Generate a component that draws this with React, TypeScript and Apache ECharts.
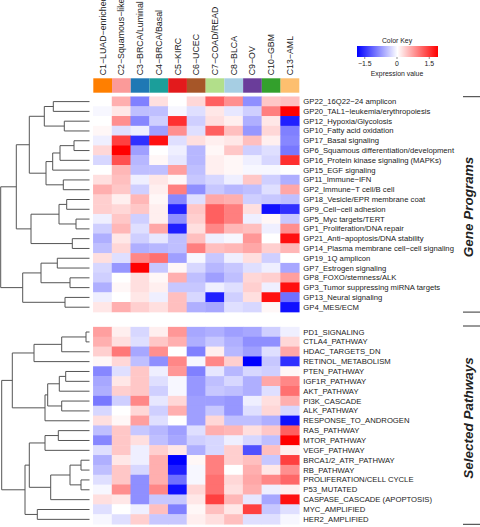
import React, { useEffect, useRef } from "react";
import * as echarts from "echarts";

const clusters = [
  "C1−LUAD−enriched", "C2−Squamous−like", "C3−BRCA/Luminal", "C4−BRCA/Basal", "C5−KIRC",
  "C6−UCEC", "C7−COAD/READ", "C8−BLCA", "C9−OV", "C10−GBM", "C13−AML",
];
const clusterColors = [
  "#FF7F00", "#FB9A99", "#1F78B4", "#1B9E9A", "#E31A1C", "#A65628",
  "#B2DF8A", "#A6CEE3", "#6A3D9A", "#33A02C", "#FDBF6F",
];

const genePrograms = [
  "GP22_16Q22−24 amplicon", "GP20_TAL1−leukemia/erythropoiesis", "GP12_Hypoxia/Glycolosis",
  "GP10_Fatty acid oxidation", "GP17_Basal signaling", "GP6_Squamous differentiation/development",
  "GP16_Protein kinase signaling (MAPKs)", "GP15_EGF signaling", "GP11_Immune−IFN",
  "GP2_Immune−T cell/B cell", "GP18_Vesicle/EPR membrane coat", "GP9_Cell−cell adhesion",
  "GP5_Myc targets/TERT", "GP1_Proliferation/DNA repair", "GP21_Anti−apoptosis/DNA stability",
  "GP14_Plasma membrane cell−cell signaling", "GP19_1Q amplicon", "GP7_Estrogen signaling",
  "GP8_FOXO/stemness/ALK", "GP3_Tumor suppressing miRNA targets", "GP13_Neural signaling",
  "GP4_MES/ECM",
];

const pathways = [
  "PD1_SIGNALING", "CTLA4_PATHWAY", "HDAC_TARGETS_DN", "RETINOL_METABOLISM", "PTEN_PATHWAY",
  "IGF1R_PATHWAY", "AKT_PATHWAY", "PI3K_CASCADE", "ALK_PATHWAY", "RESPONSE_TO_ANDROGEN",
  "RAS_PATHWAY", "MTOR_PATHWAY", "VEGF_PATHWAY", "BRCA1/2_ATR_PATHWAY", "RB_PATHWAY",
  "PROLIFERATION/CELL CYCLE", "P53_MUTATED", "CASPASE_CASCADE (APOPTOSIS)", "MYC_AMPLIFIED",
  "HER2_AMPLIFIED",
];

const geneValues = [
  [0, 0.5, -0.8, 0.2, 0, 0.25, 1.0, 0.7, -0.7, 0.35, 0.4],
  [-0.05, 0.15, -0.4, -0.4, -0.05, -0.2, 0.15, -0.15, -0.3, 0.8, 1.6],
  [0, 0.7, -0.75, -0.3, 1.3, -0.3, 0.2, 0.1, -0.5, 0.15, -1.4],
  [0.05, -0.2, -0.1, -0.6, 0.7, -0.2, 1.0, 0.4, -0.65, 0.25, -0.8],
  [-0.1, 1.2, -1.3, 1.5, -0.2, 0.2, 0.1, 0.15, 0.4, 0.1, -0.75],
  [0.25, 1.6, -0.6, 0, -0.1, -0.45, 0.05, 0.35, -0.3, -0.2, -0.85],
  [-0.25, 1.1, -0.45, 0.05, -0.15, -0.45, 0.1, 0.05, -0.1, -0.25, 1.3],
  [0, 0.45, -0.4, -0.4, 0.6, -0.4, 0.1, 0.05, -0.05, -0.05, 0],
  [0.2, 0.4, -0.1, 0.15, 0.05, -0.35, -0.25, -0.1, 0.35, -0.3, -0.5],
  [0.5, 0.35, -0.3, 0.1, 0.8, -0.7, -0.35, -0.45, -0.4, -0.2, 0.55],
  [0.3, 0.1, 0.45, 0.05, -0.75, -0.2, 0.55, 0.5, -0.3, -0.35, -0.4],
  [0.3, 0.25, 0.35, 0.1, -1.4, 0.35, 1.0, 0.8, 0.2, -1.5, -1.3],
  [-0.1, 0.35, -0.3, 0.1, -0.7, 0.3, 1.0, 0.8, -0.1, 0.05, -0.35],
  [-0.3, 0.45, -0.2, 0.55, -1.4, 0.2, 0.75, 0.45, 0.4, -0.1, 0.7],
  [-0.5, 0.15, -0.3, -0.15, -0.4, 0.4, -0.1, -0.05, 0.65, 0, 1.5],
  [-0.4, 0.25, -0.5, -0.45, -0.4, 0.8, 0.4, 0.45, 0.55, 0.3, 0.45],
  [0.2, -0.2, 0.75, 0.9, -0.6, -0.05, -0.35, -0.1, 0.2, -0.3, 0],
  [-0.25, -0.65, 1.6, -0.35, 0.05, -0.25, -0.45, -0.35, -0.2, -0.1, -0.55],
  [-0.3, 0, 0.2, 0.05, 0.5, -0.4, -0.6, -0.4, 0.25, 0.3, 0.6],
  [-0.5, 0.05, 0.2, 0.1, -0.35, -0.35, -0.1, -0.2, 0.3, -0.1, 1.5],
  [-0.1, 0, 0.15, -0.1, 0.4, -0.25, -1.4, -0.3, 0.2, 1.5, -0.9],
  [0.15, 0.5, 0.3, 0.2, 0.4, -0.5, -0.55, -0.2, -0.25, 0.05, -1.5],
];

const pathwayValues = [
  [0.6, 0.1, -0.25, 0.1, 0.65, -0.55, -0.5, -0.6, -0.55, -0.3, -0.1],
  [0.5, 0.2, -0.2, 0.35, 0.5, -0.5, -0.35, -0.5, -0.7, -0.7, 0.25],
  [0.3, 0.85, -0.55, 0.7, 0, -0.8, 0.1, -0.45, -0.6, -0.2, 0.55],
  [0.05, 0.25, -0.4, -0.7, 0.75, -0.05, 0.75, 0.3, -1.6, -0.35, -1.3],
  [-0.75, -0.2, 0.35, -0.1, 0.65, -0.8, -0.15, -0.45, -0.25, -0.3, 0.05],
  [-0.55, 0.15, 0.35, -0.2, -0.05, -0.65, -0.4, -0.25, -0.5, 0.55, 0.75],
  [-0.5, 0.3, 0.35, -0.3, -0.05, -0.65, -0.35, -0.4, -0.5, -0.2, 0.9],
  [-0.85, -0.3, 0.75, -0.15, 0.25, -0.6, -0.6, -0.65, -0.1, 0.2, 0.5],
  [-0.25, 0, 0.25, -0.3, 0.5, -0.6, -0.35, -0.65, -0.2, 0.25, -0.25],
  [0.2, 0.05, 0.6, -0.2, 0, -0.6, 0.25, -0.4, -0.4, -0.5, -1.5],
  [-0.4, 0.35, -0.35, -0.45, -0.6, -0.2, 0.5, 0.45, 0.2, 0.35, 1.0],
  [-0.75, 0.35, 0.2, -0.4, -0.55, -0.3, -0.25, -0.1, -0.25, -0.4, 1.6],
  [-0.2, 0.35, -0.1, 0.3, 0.15, -0.5, -0.25, 0.3, -1.1, 0.4, 0.1],
  [-0.5, 0.15, -0.1, 0.5, -1.6, 0.05, 0.8, 0.3, 0.4, -0.35, 1.2],
  [-0.4, 0.35, -0.25, 0.5, -1.4, -0.05, 0.8, 0, 0.5, 0.15, 0.7],
  [-0.2, 0.35, -0.7, 0.5, -0.9, -0.05, 0.9, 0.25, 0.55, 0.75, 0.95],
  [-0.05, 0.7, -0.7, 0.75, -1.5, 0.25, 0.9, 0.2, 0.5, -0.1, 0.1],
  [0.2, 0.15, -0.7, -0.35, -0.35, 0.15, 1.2, 0.45, -0.15, -0.55, 1.5],
  [-0.2, 0, -0.1, 0.4, -0.8, 0.05, 0.4, 0.15, 1.2, -0.35, -0.2],
  [-0.05, -0.2, 0.3, -0.35, -0.35, 0.1, 0.2, 0.4, -0.2, -0.2, -0.05],
];

// Dendrograms: [left, right, mergeHeight]; numbers are leaf (row) indices
const geneTree: any = [
  [
    [[[0, 1, 36.2], [2, 3, 25.2], 45.2], [[[[4, 5, 15.5], 6, 29.5], 7, 36.8], [8, 9, 26.2], 43.5], 60.2],
    [[[10, 11, 22.8], [12, 13, 13.5], 30.5], [14, 15, 17.2], 58.5],
    73.2,
  ],
  [[[16, 17, 32.2], [18, 19, 19.5], 48.5], [20, 21, 24.5], 66.8],
  88.8,
];

const pathwayTree: any = [
  [
    [[[0, 1, 3.5], 2, 27.8], 3, 55.5],
    [[[[4, 5, 23.8], 6, 30.2], [7, 8, 27.8], 41.8], 9, 44.5],
    77.2,
  ],
  [
    [[[10, 11, 31.2], 12, 44.5], [[[13, 14, 8.5], [15, 16, 8.5], 19.5], 17, 38.8], 60.2],
    [18, 19, 52.2],
    64.5,
  ],
  87.8,
];

const keyTicks = [-1.5, 0, 1.5];

const FONT = "Liberation Sans, Arial, Helvetica, sans-serif";

function dendroSegments(tree: any) {
  const segs: any[] = [];
  const walk = (n: any): [number, number] => {
    if (typeof n === "number") return [0, n + 0.5];
    const a = walk(n[0]);
    const b = walk(n[1]);
    const h = n[2];
    segs.push({ coords: [[a[0], a[1]], [h, a[1]], [h, b[1]], [b[0], b[1]]] });
    return [h, (a[1] + b[1]) / 2];
  };
  walk(tree);
  return segs;
}

function heatData(values: number[][]) {
  const out: number[][] = [];
  values.forEach((row, r) => row.forEach((v, c) => out.push([c, r, v])));
  return out;
}

export default function App() {
  const ref = useRef<HTMLDivElement>(null);
  useEffect(() => {
    if (!ref.current) return;
    const chart = echarts.init(ref.current, null, { renderer: "svg" });
    const L = 93.3, W = 206;
    const gTop = 96.7, gH = 215.4;
    const pTop = 327.1, pH = 197.2;
    const dW = 89.5;
    const keyX = (v: number) => 397 + v * 21.5;
    const lineColor = "#555";
    const bracket = (y: number) => ({
      type: "line",
      shape: { x1: 463, y1: y, x2: 480, y2: y },
      style: { stroke: "#333", lineWidth: 1 },
    });
    const txt = (text: string, x: number, y: number, size: number, extra: any = {}) => ({
      type: "text",
      x, y,
      rotation: extra.rotation || 0,
      style: {
        text,
        fill: "#222",
        font: `${extra.fontStyle || ""} ${extra.fontWeight || ""} ${size}px ${FONT}`,
        align: "center", textAlign: "center",
        verticalAlign: "middle", textVerticalAlign: "middle",
      },
    });
    const hidden = { show: false };
    const g = (left: number, top: number, width: number, height: number) => ({
      left, top, width, height, containLabel: false, outerBoundsMode: "none",
    });
    const option: any = {
      animation: false,
      textStyle: { fontFamily: FONT },
      grid: [
        g(L, 78.3, W, 14.4),
        g(L, gTop, W, gH),
        g(L, pTop, W, pH),
        g(0, gTop, dW, gH),
        g(0, pTop, dW, pH),
      ],
      xAxis: [
        {
          type: "category", gridIndex: 0, data: clusters, position: "top",
          axisLine: hidden, axisTick: hidden,
          axisLabel: { rotate: 90, fontSize: 8.8, margin: 3, interval: 0, color: "#222", fontFamily: FONT },
        },
        { type: "category", gridIndex: 1, data: clusters, show: false },
        { type: "category", gridIndex: 2, data: clusters, show: false },
        { type: "value", gridIndex: 3, min: 0, max: dW, inverse: true, show: false },
        { type: "value", gridIndex: 4, min: 0, max: dW, inverse: true, show: false },
      ],
      yAxis: [
        { type: "value", gridIndex: 0, min: 0, max: 1, show: false },
        {
          type: "category", gridIndex: 1, data: genePrograms, inverse: true, position: "right",
          axisLine: hidden, axisTick: hidden, splitLine: hidden,
          axisLabel: { fontSize: 7.7, margin: 4, interval: 0, color: "#222", fontFamily: FONT },
        },
        {
          type: "category", gridIndex: 2, data: pathways, inverse: true, position: "right",
          axisLine: hidden, axisTick: hidden, splitLine: hidden,
          axisLabel: { fontSize: 7.7, margin: 4, interval: 0, color: "#222", fontFamily: FONT },
        },
        { type: "value", gridIndex: 3, min: 0, max: genePrograms.length, inverse: true, show: false },
        { type: "value", gridIndex: 4, min: 0, max: pathways.length, inverse: true, show: false },
      ],
      visualMap: {
        type: "continuous", show: false, min: -1.6, max: 1.6, seriesIndex: [1, 2],
        inRange: { color: ["#0000FF", "#FFFFFF", "#FF0000"] },
      },
      series: [
        {
          type: "bar", xAxisIndex: 0, yAxisIndex: 0, barWidth: "100%", barCategoryGap: 0, silent: true,
          data: clusterColors.map((c) => ({ value: 1, itemStyle: { color: c } })),
        },
        { type: "heatmap", xAxisIndex: 1, yAxisIndex: 1, data: heatData(geneValues), silent: true },
        { type: "heatmap", xAxisIndex: 2, yAxisIndex: 2, data: heatData(pathwayValues), silent: true },
        {
          type: "lines", coordinateSystem: "cartesian2d", xAxisIndex: 3, yAxisIndex: 3, polyline: true,
          silent: true, lineStyle: { color: lineColor, width: 1, opacity: 1 },
          data: dendroSegments(geneTree),
        },
        {
          type: "lines", coordinateSystem: "cartesian2d", xAxisIndex: 4, yAxisIndex: 4, polyline: true,
          silent: true, lineStyle: { color: lineColor, width: 1, opacity: 1 },
          data: dendroSegments(pathwayTree),
        },
      ],
      graphic: [
        {
          type: "rect",
          shape: { x: 357, y: 46, width: 81, height: 11 },
          style: {
            fill: new echarts.graphic.LinearGradient(0, 0, 1, 0, [
              { offset: 0, color: "#0000FF" },
              { offset: 0.5, color: "#FFFFFF" },
              { offset: 1, color: "#FF0000" },
            ]),
          },
        },
        ...keyTicks.map((v) => ({
          type: "line",
          shape: { x1: keyX(v), y1: 57, x2: keyX(v), y2: 59 },
          style: { stroke: "#444", lineWidth: 0.6 },
        })),
        txt("Color Key", 397, 40.5, 6.9),
        ...keyTicks.map((v) => txt(v === 0 ? "0" : v.toFixed(1).replace("-", "−"), keyX(v), 63.5, 6.9)),
        txt("Expression value", 397, 73, 6.9),
        bracket(96.7),
        bracket(312.1),
        bracket(326),
        bracket(524.3),
        txt("Gene Programs", 468, 207, 13.5, { rotation: Math.PI / 2, fontWeight: "bold", fontStyle: "italic" }),
        txt("Selected Pathways", 468, 418, 13.5, { rotation: Math.PI / 2, fontWeight: "bold", fontStyle: "italic" }),
      ],
    };
    chart.setOption(option);
    return () => chart.dispose();
  }, []);
  return (
    <div style={{ position: "absolute", left: 0, top: 0, width: 480, height: 527 }}>
      <div ref={ref} style={{ width: 480, height: 527 }} />
    </div>
  );
}
